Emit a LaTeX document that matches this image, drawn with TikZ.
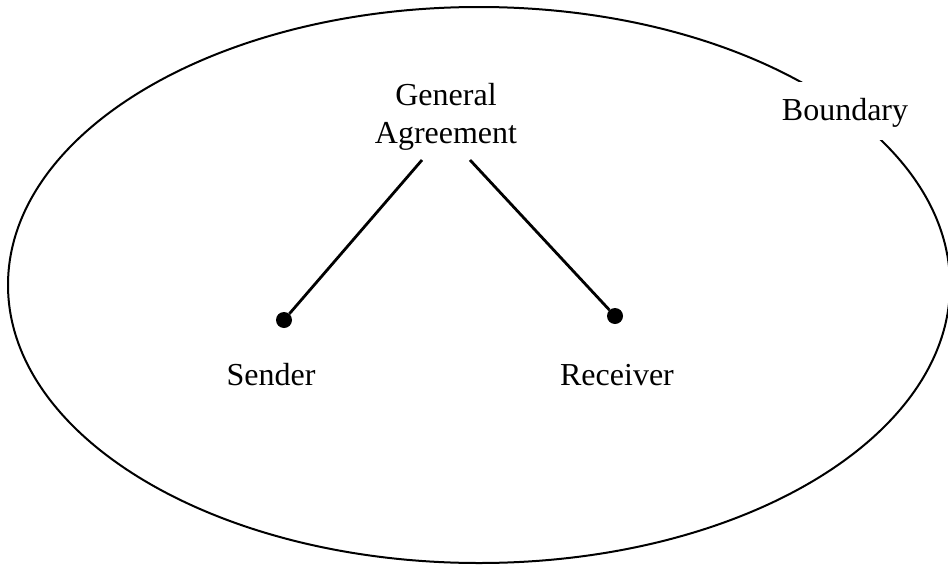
\documentclass[tikz,border=0pt]{standalone}
\usepackage{fontspec}
\setmainfont{Liberation Serif}
\begin{document}
\begin{tikzpicture}[x=1pt,y=-1pt,
  label/.style={font=\fontsize{32}{38}\selectfont, inner sep=0pt, anchor=base, align=center},
  dot/.style={circle, fill=black, inner sep=0pt, minimum size=16pt},
  link/.style={line width=2.8pt}]
\useasboundingbox (0,0) rectangle (948,565);
% outer boundary
\draw[line width=2pt] (479,285) ellipse [x radius=471, y radius=278];
% boundary label, masking part of the ellipse
\node[fill=white, minimum width=134pt, minimum height=58pt, inner sep=0pt] (bbox) at (845,111) {};
\node[label] (boundary) at (845,120) {Boundary};
% agreement and the two parties (base anchor sits on the last line)
\node[label] (agreement) at (446,143) {General\\Agreement};
\coordinate (agl) at (422,160);
\coordinate (agr) at (470,160);
\node[dot] (s) at (284,320) {};
\node[dot] (r) at (615,316) {};
\draw[link] (agl) -- (s);
\draw[link] (agr) -- (r);
\node[label] (sender) at (271,385) {Sender};
\node[label] (receiver) at (617,385) {Receiver};
\end{tikzpicture}
\end{document}
